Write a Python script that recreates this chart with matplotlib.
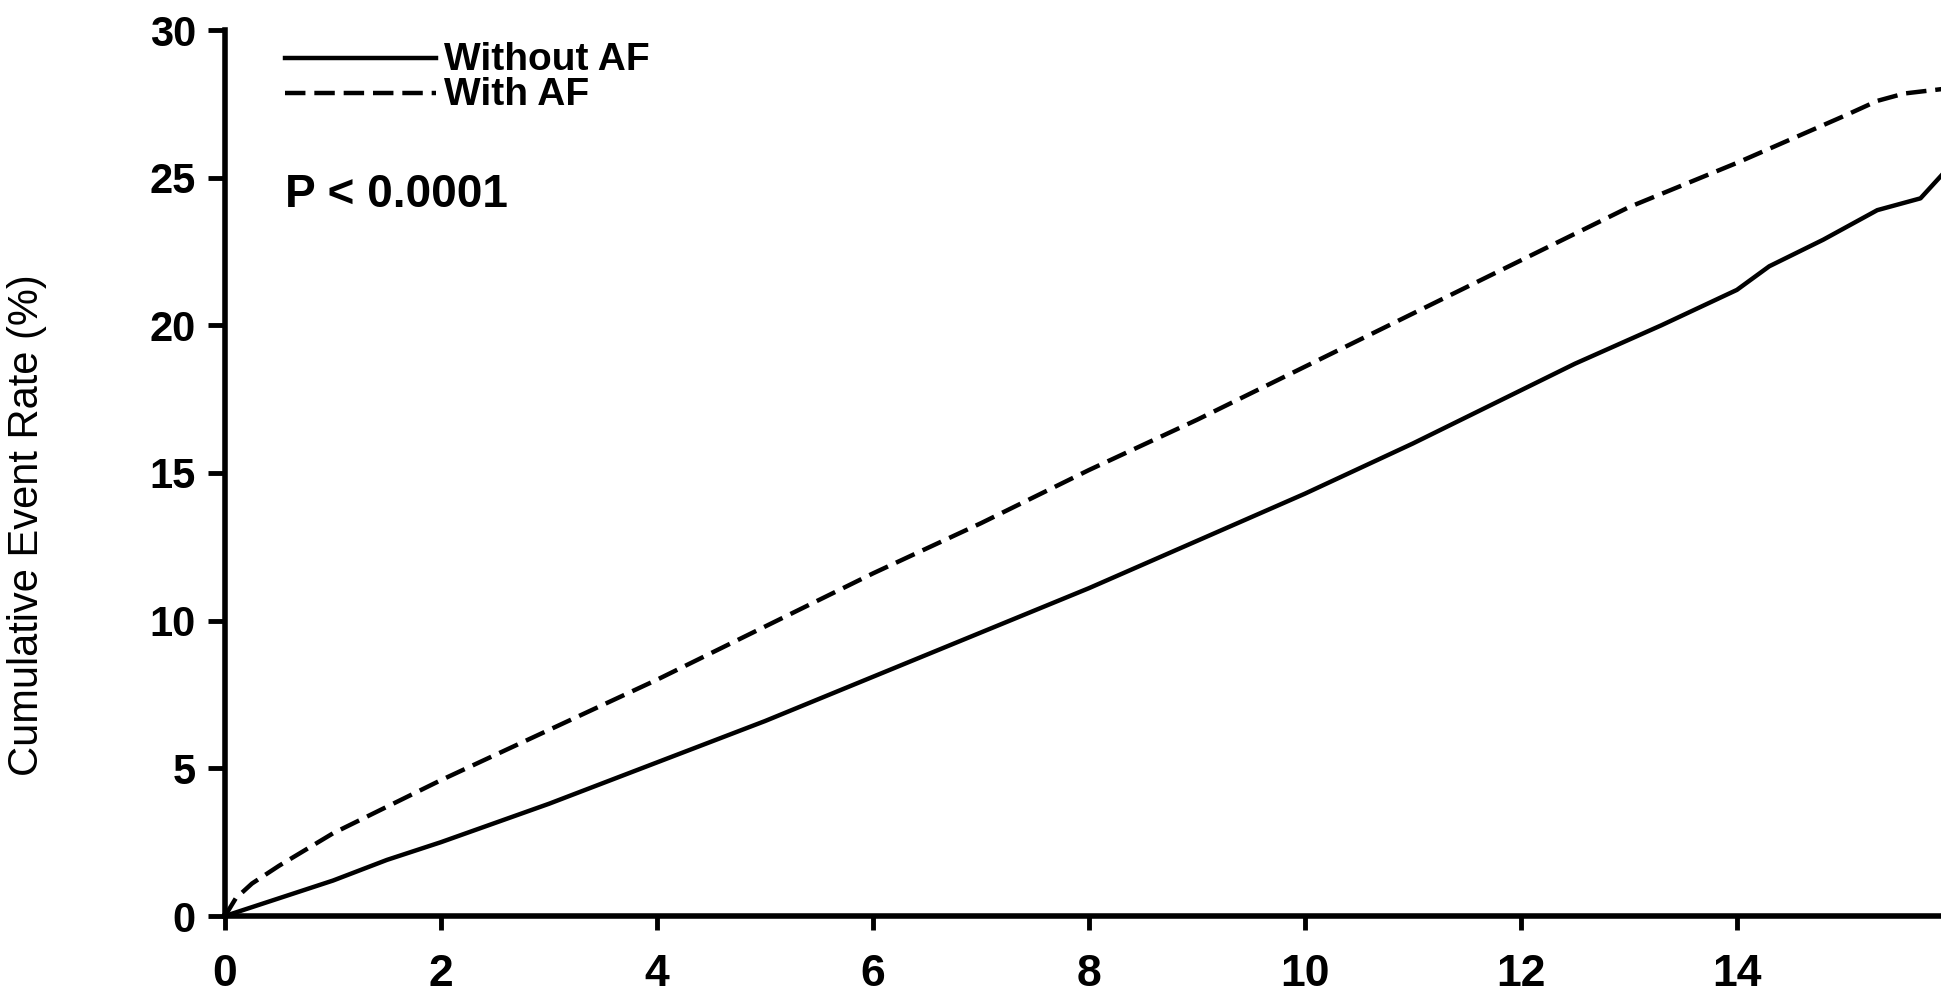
import matplotlib
matplotlib.use("Agg")
import matplotlib.pyplot as plt

# Data
years_without = [0, 0.5, 1, 1.5, 2, 3, 4, 5, 6, 7, 8, 9, 10, 11, 12, 12.5, 13.3, 14, 14.3, 14.8, 15.3, 15.7, 15.85, 15.9]
rate_without = [0, 0.6, 1.2, 1.9, 2.5, 3.8, 5.2, 6.6, 8.1, 9.6, 11.1, 12.7, 14.3, 16.0, 17.8, 18.7, 20.0, 21.2, 22.0, 22.9, 23.9, 24.3, 24.9, 25.1]

years_with = [0, 0.1, 0.25, 0.5, 1, 1.5, 2, 3, 4, 5, 6, 7, 8, 9, 10, 11, 12, 13, 14, 14.5, 15, 15.3, 15.55, 15.9]
rate_with = [0, 0.6, 1.1, 1.7, 2.8, 3.7, 4.6, 6.3, 8.0, 9.8, 11.6, 13.3, 15.1, 16.8, 18.6, 20.4, 22.2, 24.0, 25.5, 26.3, 27.1, 27.6, 27.85, 28.0]

x_ticks = [0, 2, 4, 6, 8, 10, 12, 14]
y_ticks = [0, 5, 10, 15, 20, 25, 30]
label_without = "Without AF"
label_with = "With AF"
p_text = "P < 0.0001"
y_label = "Cumulative Event Rate (%)"

plt.rcParams['font.family'] = ['Liberation Sans', 'DejaVu Sans']

fig = plt.figure(figsize=(19.41, 9.93), dpi=100)
ax = fig.add_axes([225/1941, 77/993, 1716/1941, 886/993])

LW = 3.2
DASH = (4.6, 2.0)
ax.plot(years_without, rate_without, color='black', lw=LW, solid_joinstyle='round')
ax.plot(years_with, rate_with, color='black', lw=LW, dashes=DASH)

ax.set_xlim(0, 15.89)
ax.set_ylim(0, 30)
ax.set_xticks(x_ticks)
ax.set_yticks(y_ticks)
ax.set_xticklabels([str(t) for t in x_ticks], fontsize=32, fontweight='bold')
ax.set_yticklabels([str(t) for t in y_ticks], fontsize=30, fontweight='bold')

for s in ['top', 'right']:
    ax.spines[s].set_visible(False)
for s in ['left', 'bottom']:
    ax.spines[s].set_linewidth(4)
ax.tick_params(axis='both', direction='out', width=3.5, color='black')
ax.tick_params(axis='x', length=10, pad=17)
ax.tick_params(axis='y', length=12, pad=9)

ax.set_ylabel(y_label, fontsize=30)
ax.yaxis.set_label_coords(-0.1037, 0.441)

# Legend drawn manually
ax.plot([0.56, 1.95], [29.05, 29.05], color='black', lw=LW, clip_on=False)
ax.plot([0.56, 1.95], [27.85, 27.85], color='black', lw=LW, dashes=DASH, clip_on=False)
ax.text(2.03, 29.0, label_without, fontsize=28, fontweight='bold', va='center', ha='left')
ax.text(2.03, 27.8, label_with, fontsize=28, fontweight='bold', va='center', ha='left')
ax.text(0.56, 24.4, p_text, fontsize=33, fontweight='bold', va='center', ha='left')

fig.savefig("out.png", dpi=100)
